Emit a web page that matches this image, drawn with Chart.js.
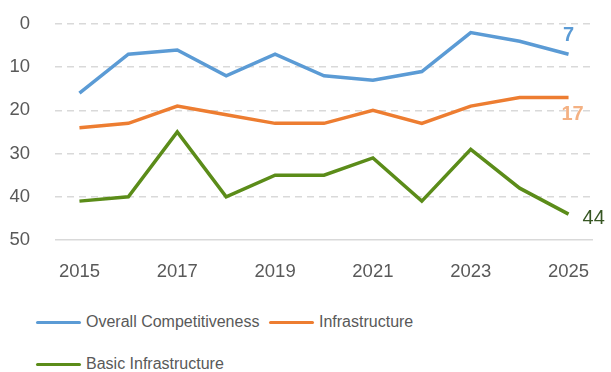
<!DOCTYPE html>
<html>
<head>
<meta charset="utf-8">
<script src="https://cdn.jsdelivr.net/npm/chart.js@4.4.1/dist/chart.umd.min.js"></script>
<style>
  body { margin: 0; background: #fff; font-family: "Liberation Sans", Arial, sans-serif; }
  #wrap { position: relative; width: 611px; height: 372px; }
  #chartBox { position: absolute; left: 0; top: 0; width: 611px; height: 295px; }
  .legend-item { position: absolute; display: flex; align-items: center; font-size: 16px; color: #595959; white-space: nowrap; }
  .legend-item .swatch { width: 45px; height: 3px; border-radius: 2px; margin-right: 5px; }
</style>
</head>
<body>
<div id="wrap">
  <div id="chartBox"><canvas id="rankChart"></canvas></div>
  <div id="legend"></div>
</div>
<script>
const years = ['2015', '2016', '2017', '2018', '2019', '2020', '2021', '2022', '2023', '2024', '2025'];
const overallRank = [16, 7, 6, 12, 7, 12, 13, 11, 2, 4, 7];
const infraRank = [24, 23, 19, 21, 23, 23, 20, 23, 19, 17, 17];
const basicInfraRank = [41, 40, 25, 40, 35, 35, 31, 41, 29, 38, 44];
const yTicks = [0, 10, 20, 30, 40, 50];

const seriesInfo = [
  { label: 'Overall Competitiveness', data: overallRank, color: '#5b9bd5', endColor: '#5b9bd5', bold: true, pos: 'above' },
  { label: 'Infrastructure', data: infraRank, color: '#ed7d31', endColor: '#f4b183', bold: true, pos: 'below' },
  { label: 'Basic Infrastructure', data: basicInfraRank, color: '#5b8c19', endColor: '#375623', bold: false, pos: 'right' }
];

// label the last point of each line, like the original
const endLabels = {
  id: 'endLabels',
  afterDatasetsDraw(chart) {
    const ctx = chart.ctx;
    ctx.save();
    chart.data.datasets.forEach((ds, i) => {
      const meta = chart.getDatasetMeta(i);
      const last = meta.data[meta.data.length - 1];
      const info = seriesInfo[i];
      const val = ds.data[ds.data.length - 1];
      ctx.font = (info.bold ? 'bold ' : '') + '20px "Liberation Sans", Arial, sans-serif';
      ctx.fillStyle = info.endColor;
      ctx.textBaseline = 'middle';
      if (info.pos === 'above') {
        ctx.textAlign = 'center';
        ctx.fillText(val, last.x, last.y - 19);
      } else if (info.pos === 'below') {
        ctx.textAlign = 'center';
        ctx.fillText(val, last.x + 4, last.y + 17);
      } else {
        ctx.textAlign = 'left';
        ctx.fillText(val, last.x + 14, last.y + 4);
      }
    });
    ctx.restore();
  }
};

new Chart(document.getElementById('rankChart'), {
  type: 'line',
  data: {
    labels: years,
    datasets: seriesInfo.map(s => ({
      label: s.label,
      data: s.data,
      borderColor: s.color,
      backgroundColor: s.color,
      borderWidth: 3.5,
      pointRadius: 0,
      tension: 0,
      fill: false
    }))
  },
  options: {
    responsive: true,
    maintainAspectRatio: false,
    animation: false,
    layout: { padding: { top: 24, right: 18, left: 0, bottom: 0 } },
    plugins: { legend: { display: false }, tooltip: { enabled: false } },
    scales: {
      x: {
        offset: true,
        grid: { display: false, drawTicks: false },
        border: { display: false },
        ticks: {
          color: '#595959',
          font: { size: 18.5, family: '"Liberation Sans", Arial, sans-serif' },
          padding: 21,
          maxRotation: 0,
          autoSkip: false,
          callback: function(val, idx) { return idx % 2 === 0 ? this.getLabelForValue(val) : ''; }
        },
        afterFit: s => { s.height = 55; }
      },
      y: {
        reverse: true,
        min: 0,
        max: 50,
        afterBuildTicks: s => { s.ticks = yTicks.map(v => ({ value: v })); },
        grid: {
          drawTicks: false,
          lineWidth: 1.5,
          color: '#d9d9d9'
        },
        border: { display: false, dash: ctx => ctx.tick && ctx.tick.value === 50 ? [] : [7, 5] },
        ticks: {
          color: '#595959',
          font: { size: 18.5, family: '"Liberation Sans", Arial, sans-serif' },
          padding: 25
        },
        afterFit: s => { s.width = 55; s.paddingTop = 11; s.paddingBottom = 11; }
      }
    }
  },
  plugins: [endLabels]
});

const legendPos = [{ x: 36, y: 322 }, { x: 269, y: 322 }, { x: 36, y: 364 }];
const legendEl = document.getElementById('legend');
seriesInfo.forEach((s, i) => {
  const item = document.createElement('div');
  item.className = 'legend-item';
  item.style.left = legendPos[i].x + 'px';
  item.style.top = (legendPos[i].y - 10) + 'px';
  item.style.height = '20px';
  item.innerHTML = '<span class="swatch" style="background:' + s.color + '"></span><span>' + s.label + '</span>';
  legendEl.appendChild(item);
});
</script>
</body>
</html>
